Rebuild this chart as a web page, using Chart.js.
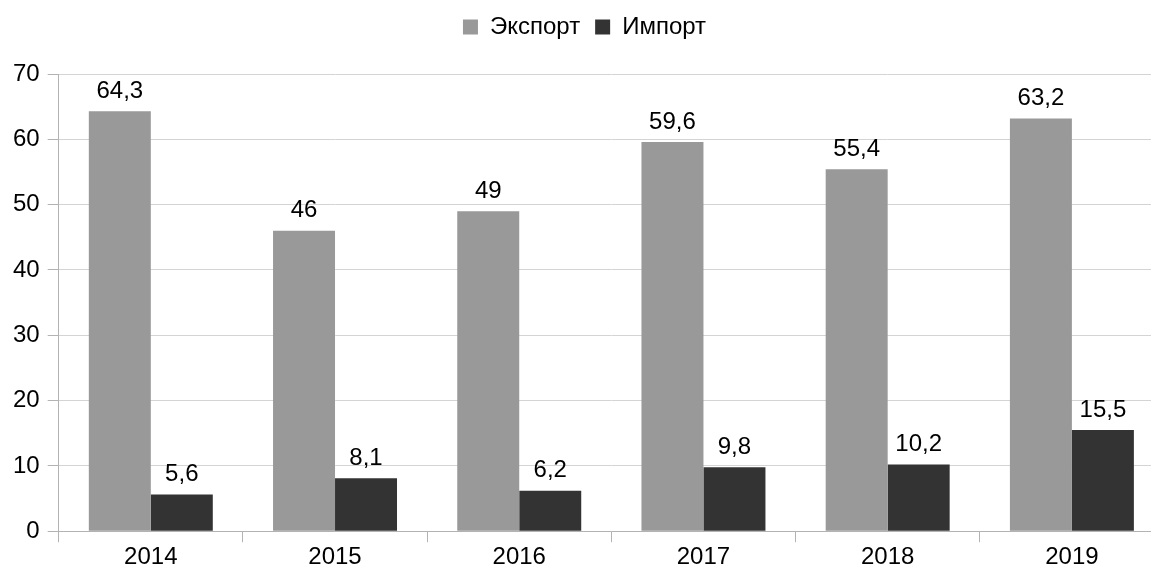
<!DOCTYPE html>
<html>
<head>
<meta charset="utf-8">
<script src="https://cdn.jsdelivr.net/npm/chart.js@4/dist/chart.umd.min.js"></script>
<style>
html, body { margin: 0; padding: 0; background: #fff; overflow: hidden; }
#wrap { width: 1166px; height: 576px; }
</style>
</head>
<body>
<div id="wrap"><canvas id="chart"></canvas></div>
<script>
var years = ['2014', '2015', '2016', '2017', '2018', '2019'];
var export_values = [64.3, 46, 49, 59.6, 55.4, 63.2];
var import_values = [5.6, 8.1, 6.2, 9.8, 10.2, 15.5];
var y_ticks = [0, 10, 20, 30, 40, 50, 60, 70];

var font_family = '"Liberation Sans", Arial, sans-serif';
var font_size = 24;

// подписи значений над столбцами
var value_labels = {
    id: 'value_labels',
    afterDatasetsDraw: function(chart){
        var ctx = chart.ctx;
        ctx.save();
        ctx.font = font_size + 'px ' + font_family;
        ctx.fillStyle = '#000';
        ctx.textAlign = 'center';
        ctx.textBaseline = 'bottom';
        chart.data.datasets.forEach(function(ds, i){
            chart.getDatasetMeta(i).data.forEach(function(bar, j){
                var txt = String(ds.data[j]).replace('.', ',');
                ctx.fillText(txt, bar.x, bar.y - 8);
            });
        });
        ctx.restore();
    }
};

// отступ под легендой
var legend_gap = {
    id: 'legend_gap',
    beforeInit: function(chart){
        var fit = chart.legend.fit;
        chart.legend.fit = function(){
            fit.bind(chart.legend)();
            this.height += 25;
        };
    }
};

var context = document.getElementById('chart').getContext('2d');
var myChart = new Chart(context, {
    type: 'bar',
    data: {
        labels: years,
        datasets: [{
            label: 'Экспорт',
            data: export_values,
            backgroundColor: '#999999'
        }, {
            label: 'Импорт',
            data: import_values,
            backgroundColor: '#333333'
        }]
    },
    options: {
        responsive: true,
        maintainAspectRatio: false,
        animation: false,
        datasets: {
            bar: { barPercentage: 1, categoryPercentage: 0.673 }
        },
        layout: { padding: { left: 5, right: 2, top: 0, bottom: 3 } },
        plugins: {
            tooltip: { enabled: false },
            legend: {
                position: 'top',
                labels: {
                    boxWidth: 15,
                    boxHeight: 15,
                    padding: 15,
                    color: '#000',
                    font: { family: font_family, size: font_size }
                }
            }
        },
        scales: {
            x: {
                grid: {
                    offset: true,
                    drawOnChartArea: false,
                    tickLength: 11,
                    color: '#b3b3b3'
                },
                border: { color: '#b3b3b3' },
                ticks: {
                    color: '#000',
                    padding: 1,
                    font: { family: font_family, size: font_size }
                }
            },
            y: {
                min: 0,
                max: 70,
                afterBuildTicks: function(axis){
                    axis.ticks = y_ticks.map(function(v){ return { value: v }; });
                },
                grid: {
                    color: '#d4d4d4',
                    tickLength: 11,
                    tickColor: '#b3b3b3'
                },
                border: { color: '#b3b3b3' },
                ticks: {
                    color: '#000',
                    padding: 8,
                    font: { family: font_family, size: font_size }
                }
            }
        }
    },
    plugins: [value_labels, legend_gap]
});
</script>
</body>
</html>
